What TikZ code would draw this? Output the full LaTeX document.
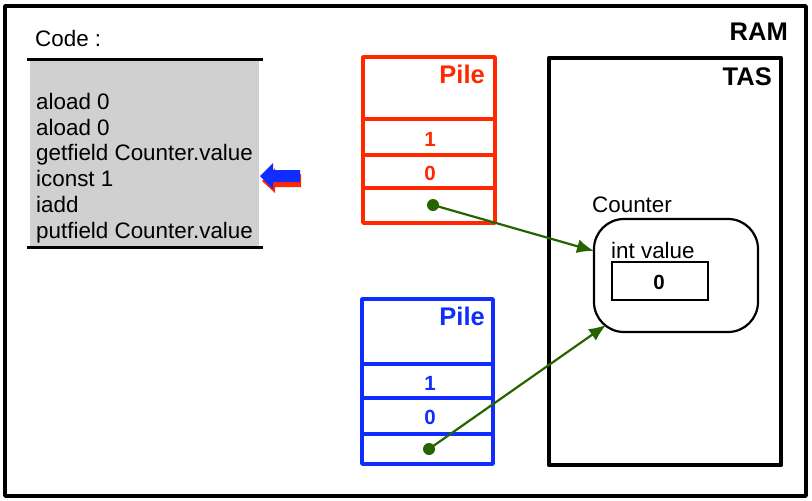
\documentclass[tikz,border=0pt]{standalone}
\usepackage{fontspec}
\setmainfont{Liberation Sans}
\usetikzlibrary{arrows.meta}
\definecolor{pilered}{RGB}{255,40,0}
\definecolor{pileblue}{RGB}{15,45,255}
\definecolor{codegrey}{RGB}{208,208,208}
\definecolor{refgreen}{RGB}{38,100,0}
\tikzset{
  frame/.style={line width=3.8pt, line cap=round, line join=round},
  pilebox/.style={line width=3.4pt, line cap=round, line join=round},
  codetext/.style={anchor=base west, inner sep=0pt, font=\fontsize{22.4}{26}\selectfont},
  label/.style={inner sep=0pt, font=\fontsize{22.4}{26}\selectfont},
  bigtitle/.style={inner sep=0pt, anchor=east, font=\fontsize{25.5}{30}\selectfont\bfseries},
  cell/.style={inner sep=0pt, font=\fontsize{20.5}{24}\selectfont\bfseries},
  ptr/.style={refgreen, line width=2.2pt, -{Latex[length=17pt,width=14pt]}},
  dot/.style={fill=refgreen}
}
\begin{document}
\begin{tikzpicture}[x=1pt,y=-1pt]
\useasboundingbox (0,0) rectangle (812,501);
% RAM frame
\draw[frame] (5,6) rectangle (806,496);
\node[bigtitle] (ram) at (788,32) {RAM};
% TAS frame
\draw[frame, line width=4.2pt] (549,58) rectangle (781,465);
\node[bigtitle] (tas) at (772,77) {TAS};
% Code block
\node[label, anchor=west] (codetitle) at (35,38) {Code :};
\fill[codegrey] (30,60) rectangle (259,246);
\draw[line width=3pt] (27,59) -- (263,59);
\draw[line width=3pt] (27,247) -- (263,247);
\node[codetext] (c1) at (36,109.5) {aload 0};
\node[codetext] (c2) at (36,135.2) {aload 0};
\node[codetext] (c3) at (36,160.9) {getfield Counter.value};
\node[codetext] (c4) at (36,186.6) {iconst 1};
\node[codetext] (c5) at (36,212.3) {iadd};
\node[codetext] (c6) at (36,238) {putfield Counter.value};
% instruction pointers (block arrows)
\fill[pilered] (262,181) -- (275,168) -- (275,174) -- (301,174) -- (301,187) -- (275,187) -- (275,193) -- cycle;
\fill[pileblue] (260,176) -- (273,163) -- (273,170) -- (300,170) -- (300,182) -- (273,182) -- (273,189) -- cycle;
% red stack
\draw[pilered, pilebox] (363,57) rectangle (495,223);
\draw[pilered, pilebox] (363,119) -- (495,119);
\draw[pilered, pilebox] (363,155) -- (495,155);
\draw[pilered, pilebox] (363,188) -- (495,188);
\node[bigtitle, pilered] (rpile) at (485,74) {Pile};
\node[cell, pilered] (r1) at (430,139) {1};
\node[cell, pilered] (r0) at (430,173) {0};
\coordinate (rdot) at (433,205);
% blue stack
\draw[pileblue, pilebox] (362,299) rectangle (493,464);
\draw[pileblue, pilebox] (362,364) -- (493,364);
\draw[pileblue, pilebox] (362,398) -- (493,398);
\draw[pileblue, pilebox] (362,434) -- (493,434);
\node[bigtitle, pileblue] (bpile) at (485,316) {Pile};
\node[cell, pileblue] (b1) at (430,383) {1};
\node[cell, pileblue] (b0) at (430,417) {0};
\coordinate (bdot) at (429,449);
% Counter object
\node[label, anchor=west] (countertitle) at (592,205) {Counter};
\node[draw, line width=2.2pt, rounded corners=30pt, minimum width=164pt, minimum height=113pt, inner sep=0pt] (counter) at (676,275.5) {};
\node[label, anchor=west] (intvalue) at (611,250) {int value};
\node[draw, line width=2.2pt, minimum width=96pt, minimum height=38pt, inner sep=0pt] (valbox) at (660,281) {};
\node[cell, text=black] (val) at (659,282) {0};
\coordinate (ptrA) at (594,251);
\coordinate (ptrB) at (606,325);
% references
\draw[ptr] (rdot) -- (ptrA);
\draw[ptr] (bdot) -- (ptrB);
\fill[dot] (rdot) circle (6);
\fill[dot] (bdot) circle (6);
\end{tikzpicture}
\end{document}
